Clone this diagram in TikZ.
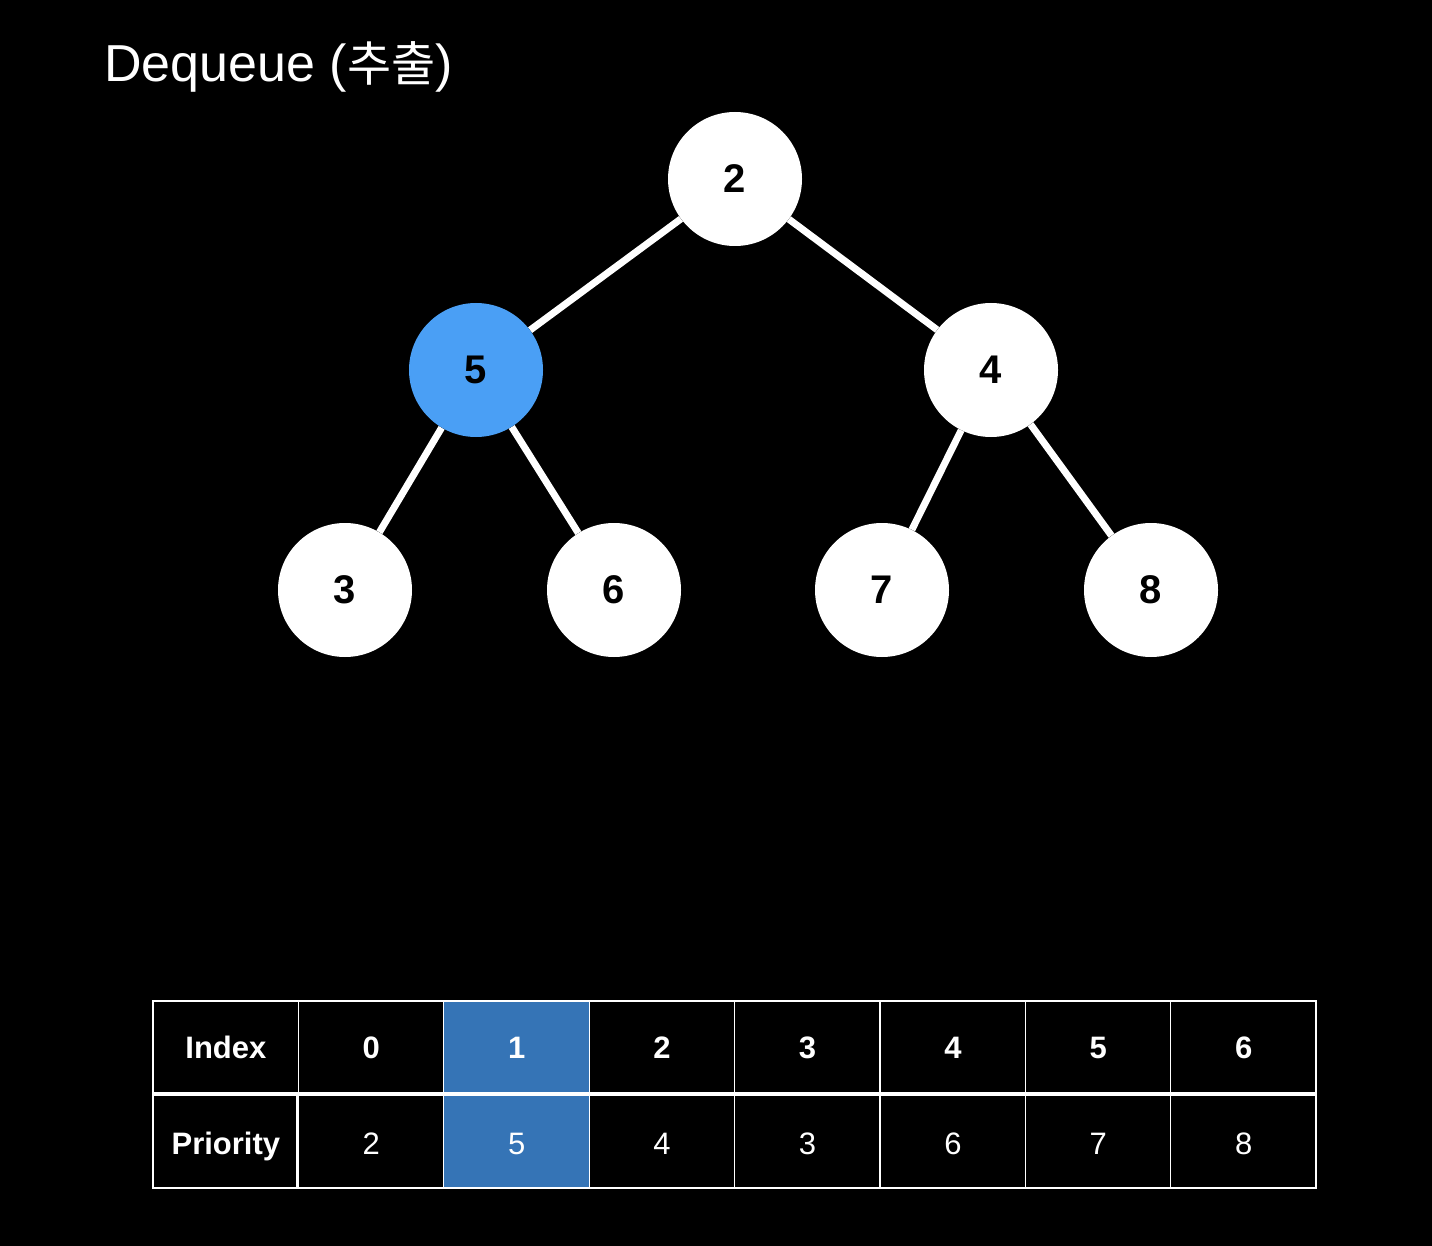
\documentclass[tikz,border=0pt]{standalone}
\usepackage{fontspec}
\setmainfont{Liberation Sans}
\newfontfamily\kr{Noto Sans CJK KR}
\usetikzlibrary{backgrounds}
\pgfdeclarelayer{canvas}
\pgfsetlayers{canvas,background,main}
\definecolor{hl}{HTML}{4A9FF5}
\definecolor{cellblue}{HTML}{3574B6}
\begin{document}
\begin{tikzpicture}[x=1pt,y=-1pt,
  hnode/.style={circle,fill=white,minimum size=134pt,inner sep=0pt,font=\fontsize{40}{40}\selectfont\bfseries,text=black},
  edge/.style={white,line width=7pt},
  cell/.style={minimum width=145.4pt,minimum height=93pt,inner sep=0pt,anchor=north west,text=white,text height=22pt,text depth=1pt,font=\fontsize{31}{31}\selectfont},
  bcell/.style={cell,font=\fontsize{31}{31}\selectfont\bfseries}]
\begin{pgfonlayer}{canvas}
\fill[black] (0,0) rectangle (1432,1246);
\end{pgfonlayer}
\useasboundingbox (0,0) rectangle (1432,1246);
\node[anchor=base west,text=white,inner sep=0pt,font=\fontsize{52}{52}\selectfont] (title) at (104,82) {Dequeue ({\kr\fontsize{48}{48}\selectfont 추출})};
% tree nodes
\node[hnode] (n2) at (735,179) {2};
\node[hnode,fill=hl] (n5) at (476,370) {5};
\node[hnode] (n4) at (991,370) {4};
\node[hnode] (n3) at (345,590) {3};
\node[hnode] (n6) at (614,590) {6};
\node[hnode] (n7) at (882,590) {7};
\node[hnode] (n8) at (1151,590) {8};
\begin{scope}[on background layer]
\draw[edge] (n2) -- (n5);
\draw[edge] (n2) -- (n4);
\draw[edge] (n5) -- (n3);
\draw[edge] (n5) -- (n6);
\draw[edge] (n4) -- (n7);
\draw[edge] (n4) -- (n8);
\end{scope}
% table
\fill[cellblue] (443.8,1001) rectangle (589.2,1188);
\node[bcell] (r1c0) at (153,1001) {Index};
\node[bcell] (r2c0) at (153,1097) {Priority};
\foreach \t [count=\i] in {0,1,2,3,4,5,6} {
  \node[bcell] (r1c\i) at ({153+145.4*\i},1001) {\t};
}
\foreach \t [count=\i] in {2,5,4,3,6,7,8} {
  \node[cell] (r2c\i) at ({153+145.4*\i},1097) {\t};
}
\draw[white,line width=1.5pt] (153,1001) rectangle (1316,1188);
\foreach \i in {1,...,7} {\draw[white,line width=1.2pt] ({153+145.4*\i},1001) -- ({153+145.4*\i},1188);}
\draw[white,line width=4pt] (153,1094) -- (1316,1094);
\draw[white,line width=3pt] (297.5,1094) -- (297.5,1188);
\end{tikzpicture}
\end{document}
